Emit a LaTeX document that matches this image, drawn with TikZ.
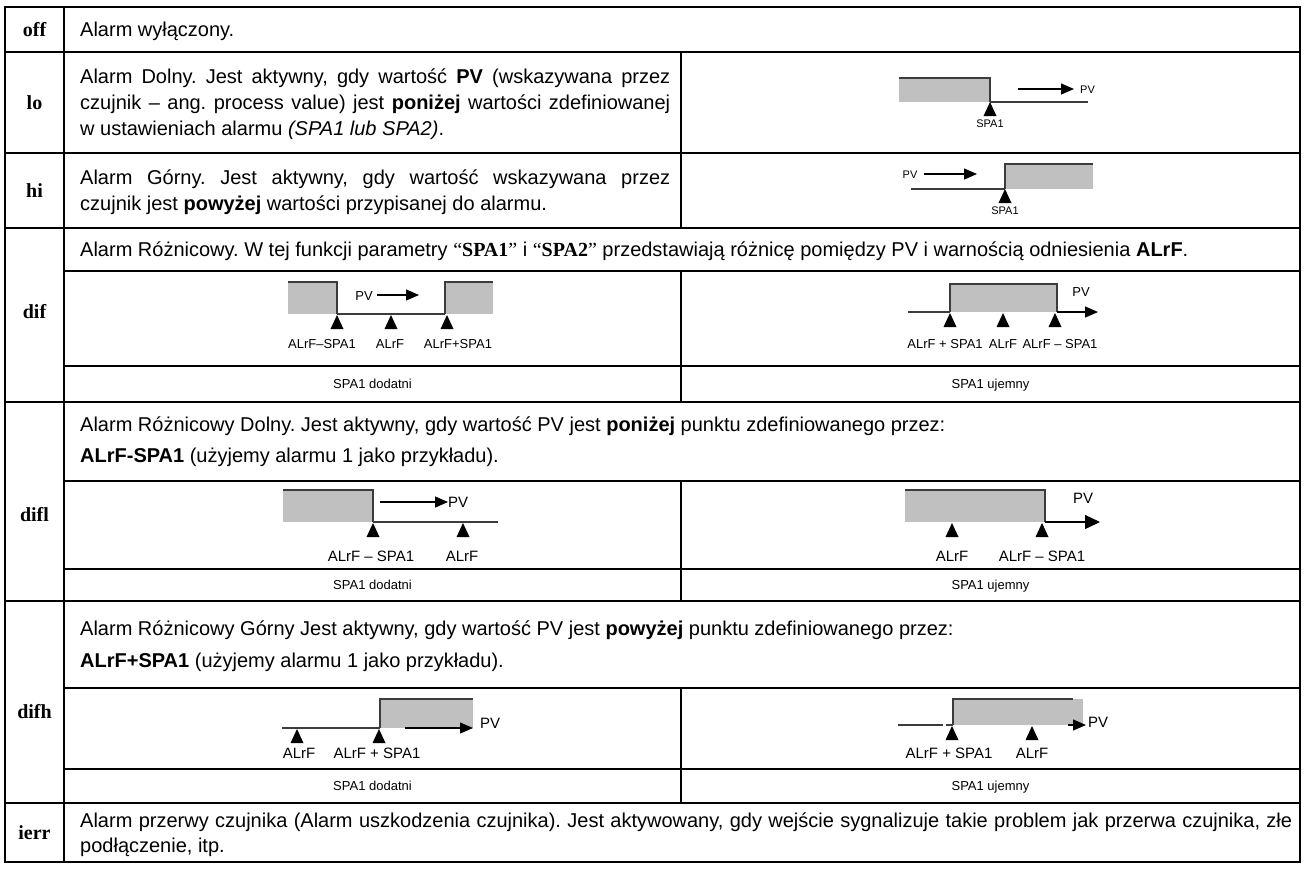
\documentclass[tikz,border=0pt]{standalone}
\usepackage{fontspec}
\setmainfont{Liberation Sans}
\newfontfamily\serifkey{Liberation Serif}
\usetikzlibrary{arrows.meta}
\frenchspacing

\definecolor{zonegray}{RGB}{192,192,192}
\definecolor{edgegray}{RGB}{60,60,60}

\begin{document}
\begin{tikzpicture}[x=1pt, y=-1pt, line cap=butt, line join=miter]
  % ---- Styles ----
  \tikzset{
    rule/.style={line width=2pt},
    key/.style={font=\serifkey\bfseries\fontsize{20}{24}\selectfont, inner sep=0pt, text height=13.6pt, text depth=0pt},
    txt/.style={font=\fontsize{20}{26}\selectfont, anchor=west, inner sep=0pt, text height=14.3pt, text depth=0pt},
    captxt/.style={font=\fontsize{13}{15}\selectfont, inner sep=0pt, text height=9.3pt, text depth=0pt},
    tag/.style={font=\fontsize{13}{15}\selectfont, inner sep=0pt, text height=9.3pt, text depth=0pt},
    tagbig/.style={font=\fontsize{15}{17}\selectfont, inner sep=0pt, text height=10.7pt, text depth=0pt},
    tagsmall/.style={font=\fontsize{11}{13}\selectfont, inner sep=0pt, text height=7.9pt, text depth=0pt},
    zone/.style={fill=zonegray},
    edge/.style={draw=edgegray, line width=1.4pt},
    base/.style={draw=edgegray, line width=1.2pt},
    pv/.style={-{Triangle[length=13pt,width=11pt]}, line width=1.2pt},
    pvbig/.style={-{Triangle[length=15pt,width=14pt]}, line width=1.2pt},
  }

  % ---- Geometry ----
  \def\tw{6.5} % half width of a set point mark
  \def\th{14}  % height of a set point mark
  \useasboundingbox (0,0) rectangle (1306,876);

  % ---- Table rules ----
  \draw[rule] (5,7) rectangle (1300,862);
  \foreach \y in {52,153,228,402,601,803}
    \draw[rule] (5,\y) -- (1300,\y);
  \foreach \y in {271,366,481,569,688,769}
    \draw[rule] (64,\y) -- (1300,\y);
  \draw[rule] (64,7) -- (64,862);
  \foreach \a/\b in {52/228,271/402,481/601,688/803}
    \draw[rule] (681,\a) -- (681,\b);

  % ---- Keys ----
  \node[key] (k-off)  at (34.5,29.5) {off};
  \node[key] (k-lo)   at (34.5,102.5) {lo};
  \node[key] (k-hi)   at (34.5,190.5) {hi};
  \node[key] (k-dif)  at (34.5,312) {dif};
  \node[key] (k-difl) at (34.5,515) {difl};
  \node[key] (k-difh) at (34.5,712) {difh};
  \node[key] (k-ierr) at (34.5,832.5) {ierr};

  % ---- Descriptions ----
  \node[txt] (t-off) at (80,29.5) {Alarm wyłączony.};
  \node[txt] (t-lo1) at (80,76.5)
    {\makebox[590pt][s]{Alarm Dolny. Jest aktywny, gdy wartość \textbf{PV} (wskazywana przez}};
  \node[txt] (t-lo2) at (80,102.5)
    {\makebox[590pt][s]{czujnik – ang. process value) jest \textbf{poniżej} wartości zdefiniowanej}};
  \node[txt] (t-lo3) at (80,128.5) {w ustawieniach alarmu \textit{(SPA1 lub SPA2)}.};
  \node[txt] (t-hi1) at (80,177.5)
    {\makebox[590pt][s]{Alarm Górny. Jest aktywny, gdy wartość wskazywana przez}};
  \node[txt] (t-hi2) at (80,203.5) {czujnik jest \textbf{powyżej} wartości przypisanej do alarmu.};
  \node[txt] (t-dif) at (80,249.5)
    {Alarm Różnicowy. W tej funkcji parametry {\serifkey“\textbf{SPA1}”} i {\serifkey“\textbf{SPA2}”} przedstawiają różnicę pomiędzy PV i warnością odniesienia \textbf{ALrF}.};
  \node[txt] (t-difl1) at (80,424)
    {Alarm Różnicowy Dolny. Jest aktywny, gdy wartość PV jest \textbf{poniżej} punktu zdefiniowanego przez:};
  \node[txt] (t-difl2) at (80,455) {\textbf{ALrF-SPA1} (użyjemy alarmu 1 jako przykładu).};
  \node[txt] (t-difh1) at (80,628.5)
    {Alarm Różnicowy Górny Jest aktywny, gdy wartość PV jest \textbf{powyżej} punktu zdefiniowanego przez:};
  \node[txt] (t-difh2) at (80,660.5) {\textbf{ALrF+SPA1} (użyjemy alarmu 1 jako przykładu).};
  \node[txt] (t-ierr1) at (80,820)
    {\makebox[1212pt][s]{Alarm przerwy czujnika (Alarm uszkodzenia czujnika). Jest aktywowany, gdy wejście sygnalizuje takie problem jak przerwa czujnika, złe}};
  \node[txt] (t-ierr2) at (80,845) {podłączenie, itp.};

  % ---- Captions ----
  \foreach \y/\n in {384/dif,585/difl,786/difh} {
    \node[captxt] (c-\n-pos) at (372.5,\y) {SPA1 dodatni};
    \node[captxt] (c-\n-neg) at (990.5,\y) {SPA1 ujemny};
  }

  % ---- lo ----
  \fill[zone] (899,78) rectangle (990,102);
  \draw[edge] (899,78) -- (990,78) -- (990,102);
  \draw[base] (990,102) -- (1088,102);
  \draw[pv] (1018,89) -- (1074,89);
  \node[tagsmall, anchor=west] (lo-pv) at (1080,90) {PV};
  \fill (990-\tw,102+\th) -- (990,102) -- (990+\tw,102+\th) -- cycle;
  \node[tagsmall] (lo-spa) at (990,124) {SPA1};

  % ---- hi ----
  \node[tagsmall] (hi-pv) at (910,175) {PV};
  \draw[pv] (924,174) -- (977,174);
  \draw[base] (911,189) -- (1005,189);
  \fill[zone] (1005,164) rectangle (1093,189);
  \draw[edge] (1005,189) -- (1005,164) -- (1093,164);
  \fill (1005-\tw,189+\th) -- (1005,189) -- (1005+\tw,189+\th) -- cycle;
  \node[tagsmall] (hi-spa) at (1005,211) {SPA1};

  % ---- dif, SPA1 > 0 ----
  \fill[zone] (288,282) rectangle (337,314);
  \fill[zone] (445,282) rectangle (493,314);
  \draw[edge] (288,282) -- (337,282) -- (337,314);
  \draw[edge] (445,314) -- (445,282) -- (493,282);
  \draw[base] (337,314) -- (445,314);
  \node[tag] (difa-pv) at (364,296) {PV};
  \draw[pv] (377,295) -- (419,295);
  \foreach \x in {337,391,447}
    \fill (\x-\tw,315+\th) -- (\x,315) -- (\x+\tw,315+\th) -- cycle;
  \node[tag] (difa-lo) at (322,344) {ALrF–SPA1};
  \node[tag] (difa-ref) at (390,344) {ALrF};
  \node[tag] (difa-hi) at (458,344) {ALrF+SPA1};

  % ---- dif, SPA1 < 0 ----
  \draw[base] (908,312) -- (950,312);
  \fill[zone] (950,284) rectangle (1057,312);
  \draw[edge] (950,312) -- (950,284) -- (1057,284) -- (1057,312);
  \draw[pv] (1057,312) -- (1098,312);
  \node[tag] (difb-pv) at (1081,292) {PV};
  \foreach \x in {950,1003,1055}
    \fill (\x-\tw,313+\th) -- (\x,313) -- (\x+\tw,313+\th) -- cycle;
  \node[tag] (difb-hi) at (945,344) {ALrF + SPA1};
  \node[tag] (difb-ref) at (1003,344) {ALrF};
  \node[tag] (difb-lo) at (1060,344) {ALrF – SPA1};

  % ---- difl, SPA1 > 0 ----
  \fill[zone] (283,490) rectangle (373,522);
  \draw[edge] (283,490) -- (373,490) -- (373,522);
  \draw[base] (373,522) -- (498,522);
  \draw[pv] (380,502) -- (448,502);
  \node[tagbig, anchor=west] (difla-pv) at (448,502) {PV};
  \foreach \x in {373,463}
    \fill (\x-\tw,523+\th) -- (\x,523) -- (\x+\tw,523+\th) -- cycle;
  \node[tagbig] (difla-lo) at (371,556) {ALrF – SPA1};
  \node[tagbig] (difla-ref) at (462,556) {ALrF};

  % ---- difl, SPA1 < 0 ----
  \fill[zone] (905,490) rectangle (1045,522);
  \draw[edge] (905,490) -- (1045,490) -- (1045,522);
  \draw[pvbig] (1045,522) -- (1100,522);
  \node[tagbig] (diflb-pv) at (1083,498) {PV};
  \foreach \x in {952,1042}
    \fill (\x-\tw,523+\th) -- (\x,523) -- (\x+\tw,523+\th) -- cycle;
  \node[tagbig] (diflb-ref) at (952,556) {ALrF};
  \node[tagbig] (diflb-lo) at (1042,556) {ALrF – SPA1};

  % ---- difh, SPA1 > 0 ----
  \draw[base] (282,728) -- (380,728);
  \fill[zone] (380,699) rectangle (473,728);
  \draw[edge] (380,728) -- (380,699) -- (473,699);
  \draw[pv] (405,728) -- (473,728);
  \node[tagbig, anchor=west] (difha-pv) at (480,723) {PV};
  \foreach \x in {297,379}
    \fill (\x-\tw,729+\th) -- (\x,729) -- (\x+\tw,729+\th) -- cycle;
  \node[tagbig] (difha-ref) at (299,753) {ALrF};
  \node[tagbig] (difha-hi) at (377,753) {ALrF + SPA1};

  % ---- difh, SPA1 < 0 ----
  \draw[base] (898,725) -- (943,725);
  \draw[base] (946,725) -- (953,725);
  \fill[zone] (953,699) rectangle (1083,725);
  \draw[edge] (953,725) -- (953,699) -- (1073,699);
  \draw[pv] (1068,725) -- (1086,725);
  \node[tagbig, anchor=west] (difhb-pv) at (1088,722) {PV};
  \foreach \x in {952,1032}
    \fill (\x-\tw,726+\th) -- (\x,726) -- (\x+\tw,726+\th) -- cycle;
  \node[tagbig] (difhb-hi) at (949,753) {ALrF + SPA1};
  \node[tagbig] (difhb-ref) at (1032,753) {ALrF};

\end{tikzpicture}
\end{document}
